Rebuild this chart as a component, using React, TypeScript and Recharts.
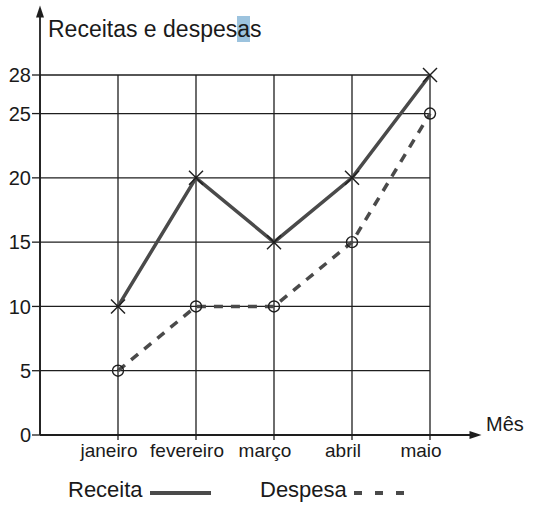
import { CartesianGrid, Line, LineChart, ReferenceDot, ReferenceLine, XAxis, YAxis } from "recharts";

const months = ["janeiro", "fevereiro", "março", "abril", "maio"];
const receita = [10, 20, 15, 20, 28];
const despesa = [5, 10, 10, 15, 25];
const yTicks = [0, 5, 10, 15, 20, 25, 28];
const xTicks = [1, 2, 3, 4, 5];

const data = months.map((month, i) => ({
  pos: i + 1,
  month,
  receita: receita[i],
  despesa: despesa[i]
}));

const font = "'Liberation Sans', Arial, sans-serif";
const ink = "#1e1e1e";
const lineInk = "#4a4a4a";

function CrossDot(props: any) {
  const { cx, cy } = props;
  if (cx == null || cy == null) return null;
  const s = 7;
  return (
    <g stroke={ink} strokeWidth={1.4}>
      <line x1={cx - s} y1={cy - s} x2={cx + s} y2={cy + s} />
      <line x1={cx - s} y1={cy + s} x2={cx + s} y2={cy - s} />
    </g>
  );
}

function CircleDot(props: any) {
  const { cx, cy } = props;
  if (cx == null || cy == null) return null;
  return <circle cx={cx} cy={cy} r={5.5} fill="none" stroke={ink} strokeWidth={1.4} />;
}

function ArrowUp(props: any) {
  const { cx, cy } = props;
  return <path d={`M${cx},${cy} l-4,12 l8,0 z`} fill={ink} />;
}

function ArrowRight(props: any) {
  const { cx, cy } = props;
  return <path d={`M${cx},${cy} l-12,-4 l0,8 z`} fill={ink} />;
}

export default function App() {
  return (
    <div style={{ position: "absolute", left: 0, top: 0, width: 548, height: 507, background: "#fff", fontFamily: font, color: "#1a1a1a" }}>
      <div style={{ position: "absolute", left: 48, top: 16, fontSize: 23, whiteSpace: "nowrap" }}>
        Receitas e despes<span style={{ background: "#9cc3de" }}>a</span>s
      </div>
      <LineChart width={548} height={507} data={data} margin={{ top: 75, right: 118, bottom: 42, left: 0 }}>
        <CartesianGrid stroke={ink} strokeWidth={1.3} />
        <XAxis
          dataKey="pos"
          type="number"
          domain={[0, 5]}
          ticks={xTicks}
          tickFormatter={(v: number) => months[v - 1]}
          height={30}
          axisLine={false}
          tickLine={{ stroke: ink, strokeWidth: 1.3 }}
          tickSize={5}
          tickMargin={4}
          tick={{ fill: "#1a1a1a", fontSize: 19, fontFamily: font, dx: -9 }}
          interval={0}
        />
        <YAxis
          type="number"
          domain={[0, 28]}
          ticks={yTicks}
          width={40}
          axisLine={false}
          tickLine={{ stroke: ink, strokeWidth: 1.3 }}
          tickSize={8}
          tickMargin={1}
          tick={{ fill: "#1a1a1a", fontSize: 20, fontFamily: font }}
          interval={0}
        />
        <ReferenceLine segment={[{ x: 0, y: 0 }, { x: 0, y: 33 }]} stroke={ink} strokeWidth={1.8} ifOverflow="visible" />
        <ReferenceLine segment={[{ x: 0, y: 0 }, { x: 5.55, y: 0 }]} stroke={ink} strokeWidth={1.8} ifOverflow="visible" />
        <ReferenceDot x={0} y={33.4} ifOverflow="visible" shape={ArrowUp} />
        <ReferenceDot x={5.66} y={0} ifOverflow="visible" shape={ArrowRight} />
        <Line
          dataKey="receita"
          type="linear"
          stroke={lineInk}
          strokeWidth={3.5}
          dot={CrossDot}
          activeDot={false}
          isAnimationActive={false}
        />
        <Line
          dataKey="despesa"
          type="linear"
          stroke={lineInk}
          strokeWidth={3.5}
          strokeDasharray="9 8"
          dot={CircleDot}
          activeDot={false}
          isAnimationActive={false}
        />
      </LineChart>
      <div style={{ position: "absolute", left: 486, top: 413, fontSize: 20 }}>Mês</div>
      <div style={{ position: "absolute", left: 68, top: 477, fontSize: 22, whiteSpace: "nowrap" }}>Receita</div>
      <div style={{ position: "absolute", left: 150, top: 491, width: 61, height: 4, background: lineInk }} />
      <div style={{ position: "absolute", left: 260, top: 477, fontSize: 22, whiteSpace: "nowrap" }}>Despesa</div>
      {[354, 375, 396].map((x) => (
        <div key={x} style={{ position: "absolute", left: x, top: 491, width: 8, height: 4, background: lineInk }} />
      ))}
    </div>
  );
}
